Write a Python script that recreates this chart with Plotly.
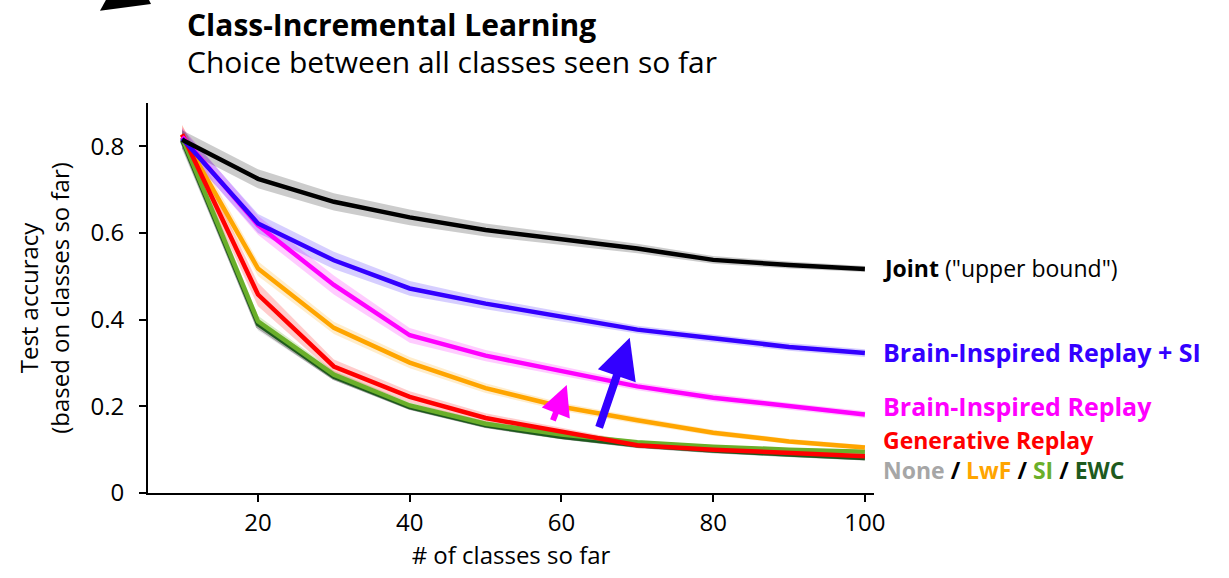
import plotly.graph_objects as go

# ---- data -------------------------------------------------------------
n_classes = [10, 20, 30, 40, 50, 60, 70, 80, 90, 100]

joint = [0.815, 0.725, 0.672, 0.636, 0.607, 0.585, 0.564, 0.538, 0.526, 0.517]
bir_si = [0.818, 0.622, 0.537, 0.472, 0.437, 0.407, 0.377, 0.357, 0.337, 0.323]
bir = [0.822, 0.618, 0.480, 0.364, 0.317, 0.281, 0.246, 0.220, 0.200, 0.181]
lwf = [0.826, 0.518, 0.381, 0.301, 0.242, 0.199, 0.168, 0.139, 0.119, 0.105]
gen_replay = [0.828, 0.458, 0.292, 0.222, 0.173, 0.141, 0.110, 0.100, 0.093, 0.085]
si = [0.820, 0.396, 0.273, 0.202, 0.160, 0.135, 0.117, 0.107, 0.100, 0.095]
ewc = [0.815, 0.390, 0.268, 0.198, 0.156, 0.130, 0.110, 0.098, 0.089, 0.081]
none = [0.812, 0.385, 0.266, 0.197, 0.155, 0.129, 0.109, 0.097, 0.088, 0.080]

# half-width of the shaded +/- SEM bands
joint_err = [0.022, 0.022, 0.020, 0.018, 0.015, 0.013, 0.011, 0.009, 0.008, 0.007]
bir_si_err = [0.022, 0.022, 0.020, 0.017, 0.013, 0.011, 0.009, 0.009, 0.009, 0.009]
bir_err = [0.022, 0.022, 0.022, 0.017, 0.013, 0.011, 0.009, 0.009, 0.008, 0.008]
lwf_err = [0.022, 0.017, 0.014, 0.013, 0.011, 0.009, 0.008, 0.007, 0.006, 0.006]
gen_replay_err = [0.022, 0.027, 0.016, 0.013, 0.011, 0.009, 0.007, 0.006, 0.006, 0.006]
si_err = [0.022, 0.013, 0.009, 0.007, 0.006, 0.005, 0.004, 0.004, 0.004, 0.004]
ewc_err = [0.020, 0.010, 0.006, 0.005, 0.004, 0.004, 0.003, 0.003, 0.003, 0.003]
none_err = [0.020, 0.010, 0.006, 0.005, 0.004, 0.004, 0.003, 0.003, 0.003, 0.003]

y_ticks = [0, 0.2, 0.4, 0.6, 0.8]
y_tick_text = ["0", "0.2", "0.4", "0.6", "0.8"]
x_ticks = [20, 40, 60, 80, 100]

# improvement arrows: (x_tail, y_tail, x_head, y_head)
arrow_bir = (58.8, 0.164, 60.7, 0.249)
arrow_bir_si = (64.9, 0.148, 69.0, 0.358)

# ---- style ------------------------------------------------------------
FONT = "Open Sans"
BLUE = "#3300ff"
MAGENTA = "#ff00ff"
ORANGE = "#ffa500"
RED = "#ff0000"
GREEN = "#6aaf2a"
DKGREEN = "#1e5a1e"
GRAY = "#a6a6a6"

series = [
    ("None", none, none_err, GRAY, "rgba(166,166,166,0.25)"),
    ("EWC", ewc, ewc_err, DKGREEN, "rgba(30,90,30,0.2)"),
    ("SI", si, si_err, GREEN, "rgba(106,175,42,0.25)"),
    ("LwF", lwf, lwf_err, ORANGE, "rgba(255,165,0,0.2)"),
    ("Generative Replay", gen_replay, gen_replay_err, RED, "rgba(255,0,0,0.2)"),
    ("Brain-Inspired Replay", bir, bir_err, MAGENTA, "rgba(255,0,255,0.2)"),
    ("Brain-Inspired Replay + SI", bir_si, bir_si_err, BLUE, "rgba(70,30,255,0.22)"),
    ("Joint", joint, joint_err, "black", "rgba(0,0,0,0.2)"),
]

fig = go.Figure()

# shaded bands first so every line sits on top of them
for name, vals, err, col, band in series:
    upper = [v + e for v, e in zip(vals, err)]
    lower = [v - e for v, e in zip(vals, err)]
    fig.add_trace(go.Scatter(
        x=n_classes + n_classes[::-1],
        y=upper + lower[::-1],
        fill="toself", fillcolor=band, line=dict(width=0),
        mode="lines", hoverinfo="skip", showlegend=False,
    ))

for name, vals, err, col, band in series:
    fig.add_trace(go.Scatter(
        x=n_classes, y=vals, mode="lines", name=name,
        line=dict(color=col, width=4.5), showlegend=False,
    ))

# plot-area geometry in pixels (used for the labels outside the axes)
W, H = 1229, 578
L, R, T, B = 148, 874, 103, 493


def px(x):
    return (x - L) / (R - L)


def py(y):
    return (B - y) / (B - T)


ann = []
ann.append(dict(text="<b>Class-Incremental Learning</b>", x=px(185), y=py(24),
                font=dict(size=30, color="black", family=FONT)))
ann.append(dict(text="Choice between all classes seen so far", x=px(185), y=py(62),
                font=dict(size=30, color="black", family=FONT)))

lab_x = px(881)
LAB = 25
ann.append(dict(text='<b>Joint</b> ("upper bound")', x=lab_x, y=py(268),
                font=dict(size=23, color="black", family=FONT)))
ann.append(dict(text="<b>Brain-Inspired Replay + SI</b>", x=lab_x, y=py(352),
                font=dict(size=LAB, color=BLUE, family=FONT)))
ann.append(dict(text="<b>Brain-Inspired Replay</b>", x=lab_x, y=py(406),
                font=dict(size=LAB, color=MAGENTA, family=FONT)))
# the two bottom labels sit tightly stacked, so they share one text block
ann.append(dict(
    text=(f"<b><span style='color:{RED}'>Generative Replay</span><br>"
          f"<span style='color:{GRAY}'>None</span> / "
          f"<span style='color:{ORANGE}'>LwF</span> / "
          f"<span style='color:{GREEN}'>SI</span> / "
          f"<span style='color:{DKGREEN}'>EWC</span></b>"),
    x=lab_x, y=py(455), align="left",
    font=dict(size=23, color="black", family=FONT)))

for a in ann:
    a.update(xref="paper", yref="paper", xanchor="left", yanchor="middle",
             showarrow=False)

# arrows marking the gain from the brain-inspired modifications
for (x0, y0, x1, y1), col, w in [(arrow_bir, MAGENTA, 6), (arrow_bir_si, BLUE, 8)]:
    ann.append(dict(
        x=x1, y=y1, ax=x0, ay=y0, xref="x", yref="y", axref="x", ayref="y",
        text="", showarrow=True, arrowhead=2, arrowsize=1.0,
        arrowwidth=w, arrowcolor=col, standoff=0, startstandoff=0,
    ))

# fragment of a pointer arrow at the top-left corner
tri = [(100, 10.7), (151, 4), (148, -2), (107, -2)]
path = "M " + " L ".join(f"{px(a)} {py(b)}" for a, b in tri) + " Z"
shapes = [dict(type="path", path=path, xref="paper", yref="paper",
               fillcolor="black", line=dict(width=0), layer="above")]

fig.update_layout(
    width=W, height=H,
    margin=dict(l=L, r=W - R, t=T, b=H - B, pad=0),
    plot_bgcolor="white", paper_bgcolor="white",
    font=dict(family=FONT, size=24, color="black"),
    annotations=ann, shapes=shapes,
    xaxis=dict(
        range=[5.5, 101.2], tickvals=x_ticks, ticks="outside", ticklen=7,
        tickwidth=2, tickcolor="black", showline=True, linecolor="black",
        linewidth=2, showgrid=False, zeroline=False,
        tickfont=dict(size=24, family=FONT),
        title=dict(text="# of classes so far", font=dict(size=24, family=FONT),
                   standoff=0),
    ),
    yaxis=dict(
        range=[0, 0.9], tickvals=y_ticks, ticktext=y_tick_text, ticks="outside",
        ticklen=7, tickwidth=2, tickcolor="black", showline=True,
        linecolor="black", linewidth=2, showgrid=False, zeroline=False,
        ticklabelstandoff=10,
        tickfont=dict(size=24, family=FONT),
        title=dict(text="Test accuracy<br>(based on classes so far)",
                   font=dict(size=24, family=FONT), standoff=14),
    ),
)

fig.write_html("out.html")
